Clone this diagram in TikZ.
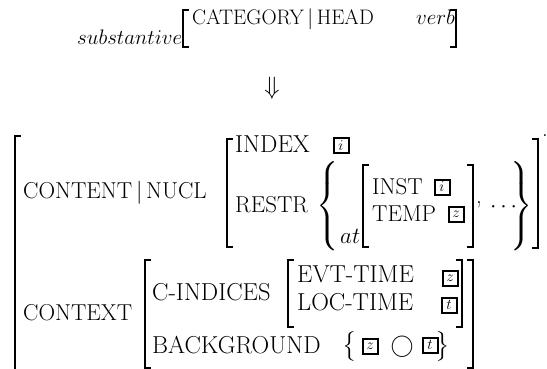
\RequirePackage{fix-cm}
\documentclass[tikz,border=0pt]{standalone}
\usepackage{amsmath}
\usepackage{fontspec}
\begin{document}
\begin{tikzpicture}[x=1pt,y=-1pt,font=\fontsize{23}{27}\selectfont,
	lbl/.style={anchor=base west, inner sep=0pt},
	spaced/.style={lbl, font=\fontsize{24.5}{28}\selectfont},
	toprow/.style={anchor=base west, inner sep=0pt, font=\fontsize{21}{25}\selectfont},
	delim/.style={inner sep=0pt},
	tagbox/.style={draw, line width=2pt, minimum height=15pt, minimum width=15pt, inner xsep=3.5pt, inner ysep=0pt, font=\fontsize{15}{15}\selectfont},
	brack/.style={line width=1.6pt}]
	\useasboundingbox (0,0) rectangle (547,369);
	% top line
	\node[toprow] (subst) at (77,45) {$substantive$};
	\draw[brack] (189,10) -- (183,10) -- (183,47) -- (189,47);
	\node[toprow] (cat) at (192,25) {CATEGORY\,$|$\,HEAD};
	\node[toprow] (verb) at (416,25) {$verb$};
	\draw[brack] (450,10) -- (456,10) -- (456,47) -- (450,47);
	\node[delim, font=\fontsize{25}{28}\selectfont] (arrow) at (272,88) {$\Downarrow$};
	% outer matrix
	\draw[brack] (21,136) -- (15,136) -- (15,369);
	\draw[brack] (532,139) -- (538,139) -- (538,248) -- (532,248);
	\node[lbl] (dot) at (542,136) {.};
	% content
	\node[lbl] (content) at (23,198) {CONTENT\,$|$\,NUCL};
	\draw[brack] (233,139) -- (227,139) -- (227,247) -- (233,247);
	\node[spaced] (index) at (235,153) {INDEX};
	\node[tagbox] (idxtag) at (341,146) {$i$};
	\node[lbl] (restr) at (235,212) {RESTR};
	\node[delim] (lbrace) at (328,206) {$\left\{\vrule height 38pt depth 38pt width 0pt\right.$};
	\node[lbl] (at) at (340,243) {$at$};
	\draw[brack] (369,165) -- (363,165) -- (363,247) -- (369,247);
	\node[lbl] (inst) at (372,194) {INST};
	\node[tagbox] (insttag) at (442,187) {$i$};
	\node[lbl] (temp) at (372,221) {TEMP};
	\node[tagbox] (temptag) at (456,214) {$z$};
	\draw[brack] (467,165) -- (473,165) -- (473,247) -- (467,247);
	\node[lbl] (comma) at (476,203) {,};
	\node[lbl] (dots) at (490,212) {$\cdots$};
	\node[delim] (rbrace) at (521,206) {$\left.\vrule height 38pt depth 38pt width 0pt\right\}$};
	% context
	\node[lbl] (context) at (23,320) {CONTEXT};
	\draw[brack] (151,260) -- (145,260) -- (145,368) -- (151,368);
	\node[spaced] (cind) at (152,300) {C-INDICES};
	\draw[brack] (294,260) -- (288,260) -- (288,327) -- (294,327);
	\node[spaced] (evt) at (297,282) {EVT-TIME};
	\node[tagbox] (evttag) at (450,278) {$z$};
	\node[spaced] (loc) at (297,310) {LOC-TIME};
	\node[tagbox] (loctag) at (449,305) {$t$};
	\draw[brack] (456,260) -- (462,260) -- (462,327) -- (456,327);
	\node[spaced] (bg) at (152,353) {BACKGROUND};
	\node[delim] (bgl) at (350,346) {$\big\{$};
	\node[tagbox] (bgz) at (370,346) {$z$};
	\node[delim] (circ) at (402,347) {$\bigcirc$};
	\node[tagbox] (bgt) at (430,345) {$t$};
	\node[delim] (bgr) at (443,346) {$\big\}$};
	\draw[brack] (467,260) -- (473,260) -- (473,368) -- (467,368);
\end{tikzpicture}
\end{document}
